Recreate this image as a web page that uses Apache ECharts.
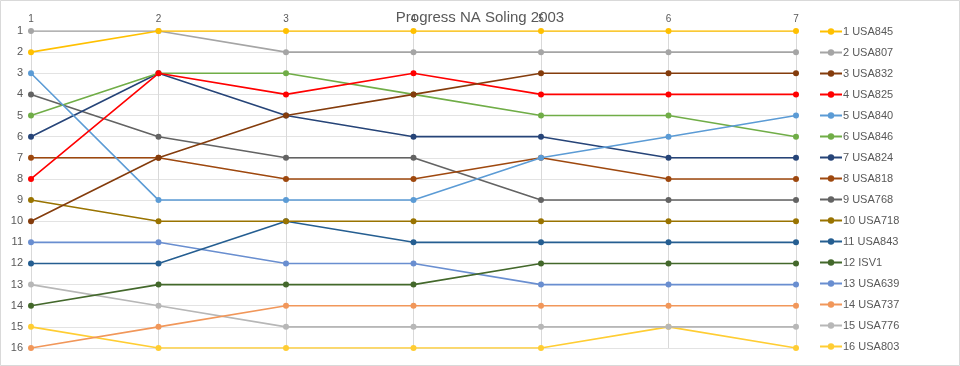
<!DOCTYPE html>
<html>
<head>
<meta charset="utf-8">
<script src="https://cdn.jsdelivr.net/npm/echarts@6/dist/echarts.min.js"></script>
<style>html,body{margin:0;padding:0;background:#fff;}#c{width:960px;height:366px;}</style>
</head>
<body>
<div id="c"></div>
<script>
const races = ['1','2','3','4','5','6','7'];
const rankTicks = [1,2,3,4,5,6,7,8,9,10,11,12,13,14,15,16];
const teams = ['1 USA845','2 USA807','3 USA832','4 USA825','5 USA840','6 USA846','7 USA824','8 USA818','9 USA768','10 USA718','11 USA843','12 ISV1','13 USA639','14 USA737','15 USA776','16 USA803'];
const colors = ['#FFC000','#A5A5A5','#843C0C','#FF0000','#5B9BD5','#70AD47','#264478','#9E480E','#636363','#997300','#255E91','#43682B','#698ED0','#F1975A','#B7B7B7','#FFCD33'];
const usa845 = [2,1,1,1,1,1,1];
const usa807 = [1,1,2,2,2,2,2];
const usa832 = [10,7,5,4,3,3,3];
const usa825 = [8,3,4,3,4,4,4];
const usa840 = [3,9,9,9,7,6,5];
const usa846 = [5,3,3,4,5,5,6];
const usa824 = [6,3,5,6,6,7,7];
const usa818 = [7,7,8,8,7,8,8];
const usa768 = [4,6,7,7,9,9,9];
const usa718 = [9,10,10,10,10,10,10];
const usa843 = [12,12,10,11,11,11,11];
const isv1 = [14,13,13,13,12,12,12];
const usa639 = [11,11,12,12,13,13,13];
const usa737 = [16,15,14,14,14,14,14];
const usa776 = [13,14,15,15,15,15,15];
const usa803 = [15,16,16,16,16,15,16];
const values = [usa845,usa807,usa832,usa825,usa840,usa846,usa824,usa818,usa768,usa718,usa843,isv1,usa639,usa737,usa776,usa803];

const chart = echarts.init(document.getElementById('c'), null, {renderer:'canvas'});
chart.setOption({
  animation:false,
  backgroundColor:'#fff',
  color: colors,
  title:{text:'Progress NA Soling 2003', left:'center', top:5, textStyle:{fontFamily:'Liberation Sans, Arial', fontSize:15, fontWeight:'normal', color:'#595959'}, z:10},
  graphic:[{type:'rect', shape:{x:0.5,y:0.5,width:959,height:365}, style:{fill:'none', stroke:'#D9D9D9', lineWidth:1}, silent:true}],
  legend:{orient:'vertical', left:819, top:26, padding:0, itemWidth:22, itemHeight:8, itemGap:10, data:teams,
    textStyle:{fontFamily:'Liberation Sans, Arial', fontSize:11, color:'#595959', padding:[0,0,0,-4]}},
  grid:{left:31, right:164, top:31, bottom:18, containLabel:false},
  xAxis:{type:'category', data:races, position:'top', boundaryGap:false,
    axisLine:{show:false}, axisTick:{show:false},
    axisLabel:{color:'#595959', fontSize:10, fontFamily:'Liberation Sans, Arial', margin:7},
    splitLine:{show:true, lineStyle:{color:'#D9D9D9', width:1}}},
  yAxis:{type:'value', inverse:true, min:1, max:16, interval:1,
    axisLine:{show:false}, axisTick:{show:false},
    axisLabel:{color:'#595959', fontSize:11, fontFamily:'Liberation Sans, Arial', margin:8,
      formatter:(v)=> rankTicks.indexOf(v) >= 0 ? String(v) : ''},
    splitLine:{show:true, lineStyle:{color:'#E3E3E3', width:1}}},
  series: teams.map((t,i)=>({
    name:t, type:'line', data:values[i], symbol:'circle', symbolSize:6,
    lineStyle:{width:1.6, color:colors[i]}, itemStyle:{color:colors[i]}, z:2+ (16-i)
  }))
});
</script>
</body>
</html>
